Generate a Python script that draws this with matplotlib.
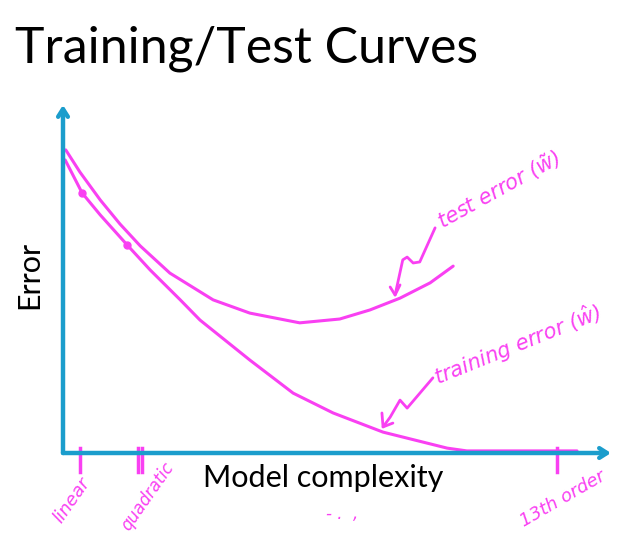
import matplotlib.pyplot as plt

# Model complexity (x) and error (y)
test_x = [0.05, 0.31, 0.68, 1.04, 1.41, 1.95, 2.74, 3.41, 4.32, 5.05, 5.60, 6.15, 6.70, 7.12]
test_y = [8.71, 8.07, 7.27, 6.58, 5.95, 5.17, 4.40, 4.02, 3.74, 3.85, 4.11, 4.45, 4.89, 5.37]

train_x = [0.04, 0.35, 0.68, 1.17, 1.59, 2.14, 2.50, 3.41, 4.20, 4.93, 5.84, 7.01, 7.37, 9.38]
train_y = [8.42, 7.47, 6.84, 5.98, 5.26, 4.40, 3.82, 2.67, 1.72, 1.15, 0.60, 0.14, 0.06, 0.06]

# hand-drawn tick marks on the complexity axis
tick_x = [0.31, 1.37, 1.44, 9.01]
tick_labels = ["linear", "quadratic", "13th order"]

PINK = "#f940f2"
BLUE = "#1b9dcc"

fig = plt.figure(figsize=(6.26, 5.37), dpi=100)
ax = fig.add_axes([63 / 626, 1 - 453 / 537, 548 / 626, 348 / 537])
ax.set_xlim(0, 10)
ax.set_ylim(0, 10)
ax.axis("off")

# axes drawn as arrows
arrow = dict(arrowstyle="->,head_length=0.55,head_width=0.35", color=BLUE, lw=3.2, shrinkA=0, shrinkB=0)
ax.annotate("", xy=(0, 10), xytext=(0, 0), annotation_clip=False, arrowprops=arrow)
ax.annotate("", xy=(10, 0), xytext=(0, 0), annotation_clip=False, arrowprops=arrow)

# curves
ax.plot(test_x, test_y, color=PINK, lw=2.2, solid_capstyle="round", solid_joinstyle="round", clip_on=False)
ax.plot(train_x, train_y, color=PINK, lw=2.2, solid_capstyle="round", solid_joinstyle="round", clip_on=False)
ax.plot([train_x[1], train_x[3]], [train_y[1], train_y[3]], "o", color=PINK, ms=5, clip_on=False)

# tick marks
for tx in tick_x:
    ax.plot([tx, tx], [0.15, -0.55], color=PINK, lw=2.5, clip_on=False)

# handwritten labels
hand = dict(color=PINK, family="DejaVu Sans", style="italic", ha="center", va="center", clip_on=False)
ax.text(0.16, -1.35, tick_labels[0], rotation=55, fontsize=13, **hand)
ax.text(1.55, -1.25, tick_labels[1], rotation=55, fontsize=12, **hand)
ax.text(9.12, -1.32, tick_labels[2], rotation=30, fontsize=13, **hand)
ax.text(5.1, -1.75, "- .  ,", fontsize=12, **hand)

ax.text(7.96, 7.56, "test error ($\\tilde{w}$)", rotation=29, fontsize=15, **hand)
ax.text(8.30, 3.10, "training error ($\\hat{w}$)", rotation=22, fontsize=15, **hand)

# squiggly pointer arrows
ax.plot([6.79, 6.51, 6.39, 6.28, 6.20, 6.06], [6.47, 5.49, 5.46, 5.63, 5.55, 4.54], color=PINK, lw=2,
        solid_joinstyle="round", solid_capstyle="round")
ax.plot([5.97, 6.06, 6.15], [4.77, 4.54, 4.83], color=PINK, lw=2, solid_joinstyle="round",
        solid_capstyle="round")
ax.plot([6.75, 6.28, 6.15, 5.97, 5.84], [2.16, 1.29, 1.52, 1.03, 0.75], color=PINK, lw=2,
        solid_joinstyle="round", solid_capstyle="round")
ax.plot([5.82, 5.84, 6.02], [1.15, 0.75, 0.86], color=PINK, lw=2, solid_joinstyle="round",
        solid_capstyle="round")

# text
fig.text(15 / 626, 1 - 62 / 537, "Training/Test Curves", fontsize=36, family="Lato", va="baseline")
fig.text(323 / 626, 1 - 478 / 537, "Model complexity", fontsize=22, family="Lato", ha="center", va="center")
fig.text(29 / 626, 1 - 275 / 537, "Error", fontsize=22, family="Lato", rotation=90, ha="center", va="center")

fig.savefig("out.png", dpi=100)
